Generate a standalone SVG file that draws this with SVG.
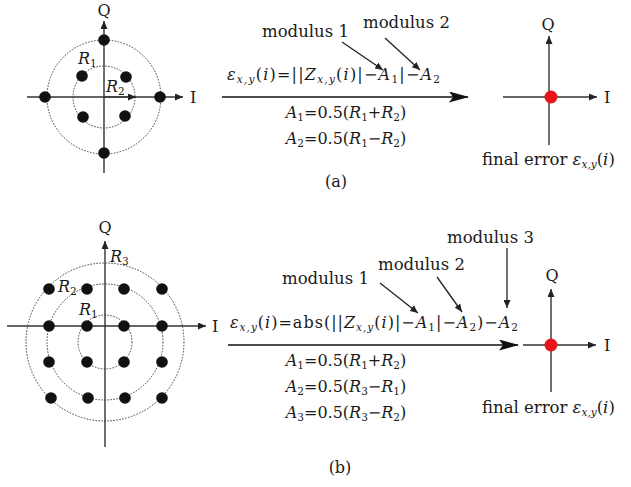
<svg xmlns="http://www.w3.org/2000/svg" width="631" height="487" viewBox="0 0 631 487">
<defs>
<marker id="ah" markerWidth="8" markerHeight="7" refX="8" refY="3.5" orient="auto" markerUnits="userSpaceOnUse"><path d="M0,0 L8,3.5 L0,7 z" fill="#222"/></marker>
<marker id="big" markerWidth="20" markerHeight="11" refX="19" refY="5.5" orient="auto" markerUnits="userSpaceOnUse"><path d="M0,0 L20,5.5 L0,11 L4,5.5 z" fill="#111"/></marker>
</defs>
<style>
text{font-family:"DejaVu Serif","Liberation Serif",serif;fill:#1a1a1a}
.ax{stroke:#333;stroke-width:1.4;fill:none}
.dash{stroke:#444;stroke-width:1;fill:none;stroke-dasharray:1.6 1.4}
.dot{fill:#111}
.red{fill:#e8141c}
.lbl{font-size:16px}
.mod{font-size:16.5px}
.f{font-size:16px}
.it{font-style:italic}
.sub{font-size:10.5px}
.ptr{stroke:#222;stroke-width:1.3;fill:none}
.main{stroke:#111;stroke-width:1.6;fill:none}
</style>

<g id="constellation-a">
<circle class="dash" cx="104" cy="97" r="57"/>
<circle class="dash" cx="104" cy="97" r="31"/>
<line class="ax" x1="104" y1="173" x2="104" y2="21" marker-end="url(#ah)"/>
<line class="ax" x1="27" y1="97" x2="183" y2="97" marker-end="url(#ah)"/>
<line class="ax" x1="104" y1="97" x2="136" y2="97" marker-end="url(#ah)"/>
<circle class="dot" cx="104" cy="40" r="5.8"/>
<circle class="dot" cx="104" cy="153" r="5.8"/>
<circle class="dot" cx="45" cy="97" r="5.8"/>
<circle class="dot" cx="160" cy="97" r="5.8"/>
<circle class="dot" cx="82" cy="76" r="5.8"/>
<circle class="dot" cx="126" cy="77" r="5.8"/>
<circle class="dot" cx="83" cy="117" r="5.8"/>
<circle class="dot" cx="125" cy="116" r="5.8"/>
<text class="lbl" x="104" y="16" text-anchor="middle">Q</text>
<text class="lbl" x="190" y="103">I</text>
<text class="lbl it" x="78" y="64">R<tspan class="sub" font-style="normal" dy="3">1</tspan></text>
<text class="lbl it" x="106" y="92">R<tspan class="sub" font-style="normal" dy="3">2</tspan></text>
</g>

<g id="formula-a">
<text class="mod" x="262" y="37">modulus 1</text>
<text class="mod" x="363" y="28">modulus 2</text>
<text class="f" x="227" y="80" textLength="213" lengthAdjust="spacing"><tspan class="it">ε</tspan><tspan class="it sub" dy="3">x,y</tspan><tspan dy="-3">(</tspan><tspan class="it">i</tspan><tspan>)=||</tspan><tspan class="it">Z</tspan><tspan class="it sub" dy="3">x,y</tspan><tspan dy="-3">(</tspan><tspan class="it">i</tspan><tspan>)|−</tspan><tspan class="it">A</tspan><tspan class="sub" dy="3">1</tspan><tspan dy="-3">|−</tspan><tspan class="it">A</tspan><tspan class="sub" dy="3">2</tspan></text>
<text class="f" x="346" y="118" text-anchor="middle"><tspan class="it">A</tspan><tspan class="sub" dy="3">1</tspan><tspan dy="-3">=0.5(</tspan><tspan class="it">R</tspan><tspan class="sub" dy="3">1</tspan><tspan dy="-3">+</tspan><tspan class="it">R</tspan><tspan class="sub" dy="3">2</tspan><tspan dy="-3">)</tspan></text>
<text class="f" x="346" y="144" text-anchor="middle"><tspan class="it">A</tspan><tspan class="sub" dy="3">2</tspan><tspan dy="-3">=0.5(</tspan><tspan class="it">R</tspan><tspan class="sub" dy="3">1</tspan><tspan dy="-3">−</tspan><tspan class="it">R</tspan><tspan class="sub" dy="3">2</tspan><tspan dy="-3">)</tspan></text>
</g>

<g id="result-a">
<line class="ax" x1="549" y1="145" x2="549" y2="36" marker-end="url(#ah)"/>
<line class="ax" x1="503" y1="97" x2="597" y2="97" marker-end="url(#ah)"/>
<circle class="red" cx="551" cy="97" r="6.5"/>
<text class="lbl" x="548" y="30" text-anchor="middle">Q</text>
<text class="lbl" x="604" y="103">I</text>
<text class="mod" x="482" y="165">final error <tspan class="it">ε</tspan><tspan class="it sub" dy="3">x,y</tspan><tspan dy="-3">(</tspan><tspan class="it">i</tspan><tspan>)</tspan></text>
</g>

<g id="caption-a"><text class="f" x="336" y="187" text-anchor="middle">(a)</text></g>

<g id="constellation-b">
<circle class="dash" cx="105" cy="342" r="27"/>
<circle class="dash" cx="105" cy="342" r="58"/>
<circle class="dash" cx="105" cy="342" r="79"/>
<line class="ax" x1="105" y1="447" x2="105" y2="241" marker-end="url(#ah)"/>
<line class="ax" x1="7" y1="326" x2="206" y2="326" marker-end="url(#ah)"/>
<g class="dot">
<circle cx="49" cy="289" r="5.8"/><circle cx="87" cy="289" r="5.8"/><circle cx="124" cy="289" r="5.8"/><circle cx="162" cy="289" r="5.8"/>
<circle cx="49" cy="326" r="5.8"/><circle cx="87" cy="326" r="5.8"/><circle cx="124" cy="326" r="5.8"/><circle cx="162" cy="326" r="5.8"/>
<circle cx="49" cy="362" r="5.8"/><circle cx="87" cy="362" r="5.8"/><circle cx="124" cy="362" r="5.8"/><circle cx="162" cy="362" r="5.8"/>
<circle cx="51" cy="398" r="5.8"/><circle cx="88" cy="398" r="5.8"/><circle cx="125" cy="398" r="5.8"/><circle cx="162" cy="398" r="5.8"/>
</g>
<text class="lbl" x="105" y="233" text-anchor="middle">Q</text>
<text class="lbl" x="212" y="332">I</text>
<text class="lbl it" x="110" y="262">R<tspan class="sub" font-style="normal" dy="3">3</tspan></text>
<text class="lbl it" x="58" y="292">R<tspan class="sub" font-style="normal" dy="3">2</tspan></text>
<text class="lbl it" x="79" y="315">R<tspan class="sub" font-style="normal" dy="3">1</tspan></text>
</g>

<g id="formula-b">
<text class="mod" x="447" y="243">modulus 3</text>
<text class="mod" x="378" y="270">modulus 2</text>
<text class="mod" x="282" y="284">modulus 1</text>
<text class="f" x="230" y="328" textLength="288" lengthAdjust="spacing"><tspan class="it">ε</tspan><tspan class="it sub" dy="3">x,y</tspan><tspan dy="-3">(</tspan><tspan class="it">i</tspan><tspan>)=abs(||</tspan><tspan class="it">Z</tspan><tspan class="it sub" dy="3">x,y</tspan><tspan dy="-3">(</tspan><tspan class="it">i</tspan><tspan>)|−</tspan><tspan class="it">A</tspan><tspan class="sub" dy="3">1</tspan><tspan dy="-3">|−</tspan><tspan class="it">A</tspan><tspan class="sub" dy="3">2</tspan><tspan dy="-3">)−</tspan><tspan class="it">A</tspan><tspan class="sub" dy="3">2</tspan></text>
<text class="f" x="346" y="366" text-anchor="middle"><tspan class="it">A</tspan><tspan class="sub" dy="3">1</tspan><tspan dy="-3">=0.5(</tspan><tspan class="it">R</tspan><tspan class="sub" dy="3">1</tspan><tspan dy="-3">+</tspan><tspan class="it">R</tspan><tspan class="sub" dy="3">2</tspan><tspan dy="-3">)</tspan></text>
<text class="f" x="346" y="392" text-anchor="middle"><tspan class="it">A</tspan><tspan class="sub" dy="3">2</tspan><tspan dy="-3">=0.5(</tspan><tspan class="it">R</tspan><tspan class="sub" dy="3">3</tspan><tspan dy="-3">−</tspan><tspan class="it">R</tspan><tspan class="sub" dy="3">1</tspan><tspan dy="-3">)</tspan></text>
<text class="f" x="346" y="418" text-anchor="middle"><tspan class="it">A</tspan><tspan class="sub" dy="3">3</tspan><tspan dy="-3">=0.5(</tspan><tspan class="it">R</tspan><tspan class="sub" dy="3">3</tspan><tspan dy="-3">−</tspan><tspan class="it">R</tspan><tspan class="sub" dy="3">2</tspan><tspan dy="-3">)</tspan></text>
</g>

<g id="result-b">
<line class="ax" x1="551" y1="392" x2="551" y2="289" marker-end="url(#ah)"/>
<line class="ax" x1="523" y1="345" x2="596" y2="345" marker-end="url(#ah)"/>
<circle class="red" cx="551" cy="345" r="6.5"/>
<text class="lbl" x="552" y="281" text-anchor="middle">Q</text>
<text class="lbl" x="604" y="351">I</text>
<text class="mod" x="482" y="413">final error <tspan class="it">ε</tspan><tspan class="it sub" dy="3">x,y</tspan><tspan dy="-3">(</tspan><tspan class="it">i</tspan><tspan>)</tspan></text>
</g>

<g id="caption-b"><text class="f" x="340" y="473" text-anchor="middle">(b)</text></g>

<g id="connectors">
<line class="main" x1="222" y1="97" x2="468" y2="97" marker-end="url(#big)"/>
<line class="ptr" x1="342" y1="42" x2="383" y2="70" marker-end="url(#ah)"/>
<line class="ptr" x1="385" y1="38" x2="420" y2="70" marker-end="url(#ah)"/>
<line class="main" x1="228" y1="345" x2="518" y2="345" marker-end="url(#big)"/>
<line class="ptr" x1="380" y1="283" x2="418" y2="313" marker-end="url(#ah)"/>
<line class="ptr" x1="437" y1="277" x2="462" y2="312" marker-end="url(#ah)"/>
<line class="ptr" x1="507" y1="248" x2="507" y2="308" marker-end="url(#ah)"/>
</g>
</svg>
